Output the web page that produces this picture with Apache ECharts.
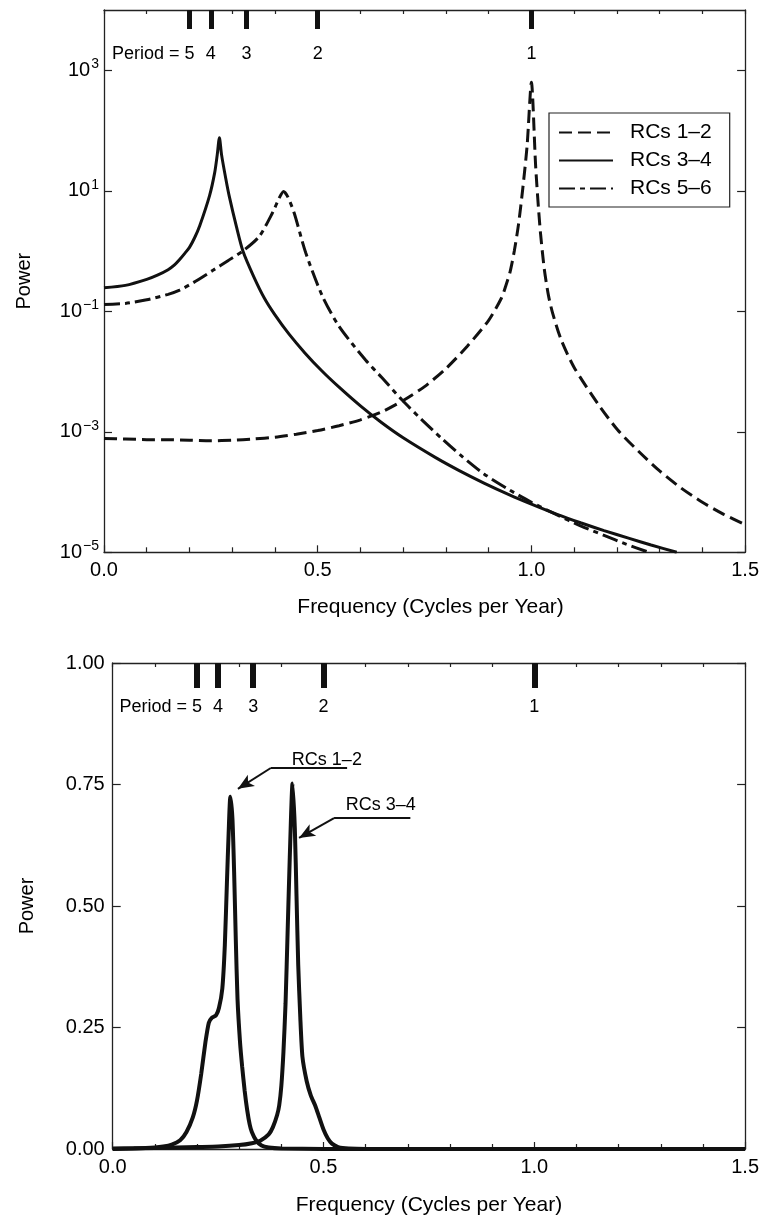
<!DOCTYPE html>
<html>
<head>
<meta charset="utf-8">
<script src="https://cdn.jsdelivr.net/npm/echarts@6/dist/echarts.min.js"></script>
<style>
html,body{margin:0;padding:0;background:#fff;}
#c{width:762px;height:1217px;}
</style>
</head>
<body>
<div id="c"></div>
<script>
// ---------- Top panel: power spectra (log scale) ----------
const freqA12 = [0,0.05,0.10,0.15,0.20,0.25,0.30,0.35,0.40,0.45,0.50,0.55,0.60,0.65,0.70,0.75,0.80,0.85,0.90,0.93,0.94,0.95,0.96,0.97,0.98,0.99,1.00,1.01,1.02,1.03,1.04,1.05,1.07,1.10,1.155,1.202,1.25,1.30,1.35,1.40,1.45,1.50];
const powA12 = [7.76e-4,7.59e-4,7.41e-4,7.41e-4,7.24e-4,7.08e-4,7.24e-4,7.59e-4,8.13e-4,9.12e-4,1.05e-3,1.26e-3,1.58e-3,2.14e-3,3.31e-3,5.62e-3,1.12e-2,2.63e-2,7.08e-2,0.166,0.263,0.447,1.0,2.82,11.2,56.2,631,25.1,2.51,0.513,0.182,9.12e-2,3.31e-2,1.17e-2,2.95e-3,1.07e-3,4.79e-4,2.24e-4,1.17e-4,6.76e-5,4.27e-5,2.88e-5];

const freqA34 = [0,0.05,0.10,0.125,0.15,0.165,0.177,0.19,0.20,0.212,0.224,0.247,0.259,0.265,0.27,0.275,0.285,0.293,0.31,0.325,0.35,0.375,0.40,0.433,0.47,0.51,0.55,0.60,0.65,0.70,0.776,0.83,0.889,0.95,1.00,1.06,1.115,1.17,1.229,1.28,1.34];
const powA34 = [0.245,0.269,0.339,0.398,0.490,0.589,0.724,0.933,1.15,1.66,2.63,8.32,20.0,39.8,75.9,39.8,15.8,8.13,2.51,1.0,0.380,0.166,8.71e-2,4.17e-2,2.04e-2,1.02e-2,5.50e-3,2.69e-3,1.41e-3,7.94e-4,3.72e-4,2.29e-4,1.41e-4,8.91e-5,6.31e-5,4.27e-5,3.09e-5,2.29e-5,1.70e-5,1.32e-5,1.0e-5];

const freqA56 = [0,0.05,0.10,0.15,0.177,0.21,0.255,0.29,0.325,0.363,0.394,0.41,0.42,0.43,0.445,0.472,0.511,0.55,0.612,0.65,0.697,0.742,0.79,0.833,0.889,0.95,1.00,1.06,1.115,1.17,1.22,1.275];
const powA56 = [0.129,0.135,0.155,0.191,0.224,0.302,0.479,0.692,1.0,1.74,4.27,7.59,9.77,7.94,4.27,0.933,0.178,5.62e-2,1.55e-2,7.94e-3,3.39e-3,1.62e-3,7.76e-4,4.17e-4,2.00e-4,1.07e-4,6.76e-5,4.17e-5,2.75e-5,1.91e-5,1.38e-5,1.0e-5];

// ---------- Bottom panel: normalized power (linear) ----------
const freqB12 = [0,0.05,0.10,0.12,0.14,0.16,0.175,0.19,0.20,0.21,0.22,0.228,0.235,0.245,0.252,0.26,0.266,0.271,0.275,0.279,0.284,0.288,0.292,0.296,0.302,0.307,0.313,0.319,0.325,0.33,0.34,0.353,0.37,0.40,0.50,1.00,1.50];
const powB12 = [0.0,0.001,0.003,0.005,0.009,0.018,0.035,0.065,0.10,0.155,0.22,0.26,0.27,0.275,0.29,0.33,0.42,0.55,0.65,0.725,0.68,0.57,0.43,0.31,0.22,0.17,0.12,0.08,0.05,0.035,0.018,0.007,0.003,0.001,0.0,0.0,0.0];

const freqB34 = [0,0.10,0.20,0.25,0.30,0.33,0.35,0.37,0.38,0.39,0.395,0.40,0.405,0.41,0.415,0.42,0.4265,0.432,0.436,0.44,0.445,0.45,0.46,0.47,0.48,0.49,0.50,0.51,0.52,0.535,0.56,0.60,1.0,1.5];
const powB34 = [0.001,0.002,0.004,0.005,0.008,0.012,0.017,0.03,0.045,0.07,0.09,0.13,0.2,0.3,0.45,0.6,0.752,0.66,0.52,0.38,0.27,0.19,0.14,0.11,0.09,0.065,0.04,0.022,0.011,0.004,0.001,0.0,0.0,0.0];

// tick / label values
const logTickExps = [-5,-3,-1,1,3];
const periodFreqs = [0.2,0.25,1/3,0.5,1.0];
const periodLabels = ['5','4','3','2','1'];
const seriesNamesTop = ['RCs 1–2','RCs 3–4','RCs 5–6'];
// annotation anchors in data units (bottom panel): [text, textPos, elbow, lineEnd, arrowTip]
const annotations = [
  ['RCs 1–2',[0.508,0.80],[0.375,0.784],[0.556,0.784],[0.297,0.741]],
  ['RCs 3–4',[0.636,0.708],[0.525,0.681],[0.706,0.681],[0.442,0.640]]
];

const FONT = 'Liberation Sans, Arial, Helvetica, sans-serif';
const INK = '#111';
const AX = '#222';

function pairs(xs, ys, tf){ return xs.map((x,i)=>[x, tf ? tf(ys[i]) : ys[i]]); }
const log10 = v => Math.log10(v);

function supLabel(v){
  const e = Math.round(v);
  const s = e < 0 ? '\u2212' + (-e) : String(e);
  return '{b|10}{s|' + s + '}';
}
function periodIndex(v){
  let idx = -1;
  periodFreqs.forEach((p,i)=>{ if (Math.abs(p - v) < 1e-6) idx = i; });
  return idx;
}
const periodRich = {
  h:{fontSize:18,fontFamily:FONT,color:'#000'},
  n:{fontSize:18,fontFamily:FONT,color:'#000'},
  g:{fontSize:18,fontFamily:FONT,color:'rgba(0,0,0,0)'}
};

function bottomX(grid, nameGap, namePad){
  return {
    type:'value', gridIndex:grid, position:'bottom', min:0, max:1.5, interval:0.5,
    name:'Frequency (Cycles per Year)', nameLocation:'middle', nameGap:nameGap,
    nameTextStyle:{fontSize:21,fontFamily:FONT,color:'#000',padding:namePad},
    axisLine:{show:true,onZero:false,lineStyle:{color:AX,width:1.3}},
    axisTick:{show:true,inside:true,length:7,lineStyle:{color:AX,width:1.2}},
    minorTick:{show:true,splitNumber:5,length:5,lineStyle:{color:AX,width:1.2}},
    axisLabel:{fontSize:20,fontFamily:FONT,color:'#000',margin:8,formatter:v=>v.toFixed(1)},
    splitLine:{show:false}, minorSplitLine:{show:false}
  };
}
function topMinorX(grid){
  return {
    type:'value', gridIndex:grid, position:'top', min:0, max:1.5, interval:0.1,
    axisLine:{show:true,onZero:false,lineStyle:{color:AX,width:1.3}},
    axisTick:{show:true,inside:true,length:4,lineStyle:{color:AX,width:1.2}},
    axisLabel:{show:false}, splitLine:{show:false}
  };
}
// thick period markers with the short period numbers
function periodX(grid, len, w, margin){
  return {
    type:'value', gridIndex:grid, position:'top', min:0, max:1.5,
    axisLine:{show:false,onZero:false},
    axisTick:{show:true,inside:true,length:len,customValues:periodFreqs,lineStyle:{color:INK,width:w}},
    axisLabel:{show:true,inside:true,margin:margin,customValues:periodFreqs.slice(1),
      formatter:v=>{const i=periodIndex(v); return i<0?'':periodLabels[i];},
      fontSize:18,fontFamily:FONT,color:'#000'},
    splitLine:{show:false}
  };
}
// the "Period = 5" label on its own axis so it never collides with the others
function periodFirstX(grid, margin){
  return {
    type:'value', gridIndex:grid, position:'top', min:0, max:1.5,
    axisLine:{show:false,onZero:false},
    axisTick:{show:false},
    axisLabel:{show:true,inside:true,margin:margin,customValues:[periodFreqs[0]],
      formatter:()=> '{h|Period = }{n|' + periodLabels[0] + '}{g|Period = }',
      rich:periodRich,fontSize:18,fontFamily:FONT,color:'#000'},
    splitLine:{show:false}
  };
}

const option = {
  animation:false,
  backgroundColor:'#fff',
  textStyle:{fontFamily:FONT},
  grid:[
    {left:104, top:10, width:644.3, height:542.3, containLabel:false},
    {left:112.7, top:663, width:635.6, height:487, containLabel:false}
  ],
  legend:{
    data:seriesNamesTop,
    orient:'vertical',
    left:549, top:113,
    itemWidth:54, itemHeight:14, itemGap:7,
    padding:[9,18,8,9],
    borderColor:'#222', borderWidth:1.2,
    itemStyle:{opacity:0},
    textStyle:{fontSize:21,fontFamily:FONT,color:'#000',padding:[0,0,0,12]},
    selectedMode:false
  },
  xAxis:[
    bottomX(0,44,[0,0,0,12]),
    topMinorX(0),
    periodX(0,19,5,35),
    periodFirstX(0,35),
    bottomX(1,46,[0,0,0,0]),
    topMinorX(1),
    periodX(1,25,6,35),
    periodFirstX(1,35)
  ],
  yAxis:[
    {type:'value', gridIndex:0, position:'left', min:-5, max:4, interval:1,
     name:'Power', nameLocation:'middle', nameGap:70, nameRotate:90,
     nameTextStyle:{fontSize:20,fontFamily:FONT,color:'#000'},
     axisLine:{show:true,onZero:false,lineStyle:{color:AX,width:1.3}},
     axisTick:{show:true,inside:true,length:8,customValues:logTickExps,lineStyle:{color:AX,width:1.2}},
     axisLabel:{show:true,margin:5,customValues:logTickExps,formatter:supLabel,
       rich:{b:{fontSize:20,fontFamily:FONT,color:'#000'},s:{fontSize:14,fontFamily:FONT,color:'#000',padding:[0,0,12,1]}}},
     splitLine:{show:false}},
    {type:'value', gridIndex:0, position:'right', min:-5, max:4, interval:1,
     axisLine:{show:true,onZero:false,lineStyle:{color:AX,width:1.3}},
     axisTick:{show:true,inside:true,length:8,customValues:logTickExps,lineStyle:{color:AX,width:1.2}},
     axisLabel:{show:false}, splitLine:{show:false}},
    {type:'value', gridIndex:1, position:'left', min:0, max:1, interval:0.25,
     name:'Power', nameLocation:'middle', nameGap:75, nameRotate:90,
     nameTextStyle:{fontSize:20,fontFamily:FONT,color:'#000'},
     axisLine:{show:true,onZero:false,lineStyle:{color:AX,width:1.3}},
     axisTick:{show:true,inside:true,length:8,lineStyle:{color:AX,width:1.2}},
     axisLabel:{fontSize:20,fontFamily:FONT,color:'#000',margin:8,formatter:v=>v.toFixed(2)},
     splitLine:{show:false}},
    {type:'value', gridIndex:1, position:'right', min:0, max:1, interval:0.25,
     axisLine:{show:true,onZero:false,lineStyle:{color:AX,width:1.3}},
     axisTick:{show:true,inside:true,length:8,lineStyle:{color:AX,width:1.2}},
     axisLabel:{show:false}, splitLine:{show:false}}
  ],
  series:[
    {name:seriesNamesTop[0], type:'line', xAxisIndex:0, yAxisIndex:0, symbol:'none', smooth:0.25,
     data:pairs(freqA12,powA12,log10), lineStyle:{color:INK,width:3,type:[13,6]}, itemStyle:{color:INK}, emphasis:{disabled:true}, z:3},
    {name:seriesNamesTop[1], type:'line', xAxisIndex:0, yAxisIndex:0, symbol:'none', smooth:0.25,
     data:pairs(freqA34,powA34,log10), lineStyle:{color:INK,width:3,type:'solid'}, itemStyle:{color:INK}, emphasis:{disabled:true}, z:3},
    {name:seriesNamesTop[2], type:'line', xAxisIndex:0, yAxisIndex:0, symbol:'none', smooth:0.25,
     data:pairs(freqA56,powA56,log10), lineStyle:{color:INK,width:3,type:[16,5,5,5]}, itemStyle:{color:INK}, emphasis:{disabled:true}, z:3},
    {name:'Bottom RCs 1–2', type:'line', xAxisIndex:4, yAxisIndex:2, symbol:'none', smooth:0.2,
     data:pairs(freqB12,powB12), lineStyle:{color:INK,width:4}, itemStyle:{color:INK}, emphasis:{disabled:true}, z:3,
     markLine:{silent:true, animation:false, label:{show:false}, lineStyle:{color:INK,width:2,type:'solid',opacity:1},
       data: annotations.flatMap(a=>[
         [{coord:a[2],symbol:'none'},{coord:a[4],symbol:'arrow',symbolSize:[10,16]}],
         [{coord:a[2],symbol:'none'},{coord:a[3],symbol:'none'}]
       ])}},
    {name:'Bottom RCs 3–4', type:'line', xAxisIndex:4, yAxisIndex:2, symbol:'none', smooth:0.2,
     data:pairs(freqB34,powB34), lineStyle:{color:INK,width:4}, itemStyle:{color:INK}, emphasis:{disabled:true}, z:3},
    {name:'Annotation labels', type:'scatter', xAxisIndex:4, yAxisIndex:2, symbolSize:0, silent:true,
     itemStyle:{color:'#000',opacity:1},
     data:annotations.map(a=>({name:a[0], value:a[1]})),
     label:{show:true, position:'inside', formatter:p=>p.name, fontSize:18, fontFamily:FONT, color:'#000', opacity:1, textBorderWidth:0},
     emphasis:{disabled:true}}
  ]
};

const chart = echarts.init(document.getElementById('c'), null, {renderer:'canvas'});
chart.setOption(option);
</script>
</body>
</html>
